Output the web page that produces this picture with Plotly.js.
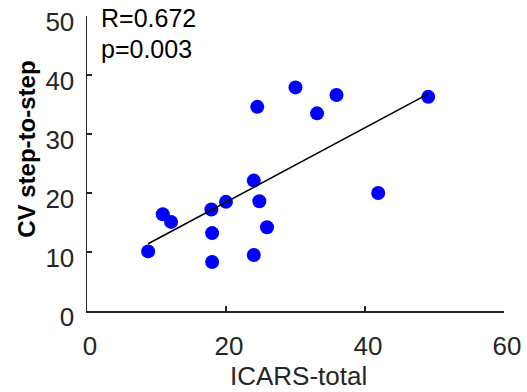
<!DOCTYPE html>
<html>
<head>
<meta charset="utf-8">
<script src="https://cdn.plot.ly/plotly-3.0.1.min.js"></script>
<style>html,body{margin:0;padding:0;background:#fff;}#chart{width:527px;height:392px;}</style>
</head>
<body>
<div id="chart"></div>
<script>
// ICARS-total vs CV step-to-step
const icarsTotal = [24.5, 30.0, 33.1, 35.9, 49.1, 24.0, 20.0, 24.8, 41.9, 10.9, 12.1, 17.9, 18.0, 25.9, 8.8, 24.0, 18.0];
const cvStep     = [34.6, 37.9, 33.5, 36.6, 36.3, 22.1, 18.5, 18.6, 20.0, 16.4, 15.1, 17.2, 13.2, 14.2, 10.1, 9.5, 8.3];
const fitX = [8.8, 49.1];
const fitY = [11.4, 36.8];
const statLines = ["R=0.672", "p=0.003"];
const xTicks = [0, 20, 40, 60];
const yTicks = [0, 10, 20, 30, 40, 50];
const xTitle = "ICARS-total";
const yTitle = "CV step-to-step";

const font = "Liberation Sans, Arial, sans-serif";
const axisColor = "#262626";

const traces = [
  {
    x: icarsTotal, y: cvStep, type: "scatter", mode: "markers",
    marker: {color: "#0000ff", size: 14},
    hoverinfo: "skip"
  },
  {
    x: fitX, y: fitY, type: "scatter", mode: "lines",
    line: {color: "#000000", width: 1.6},
    hoverinfo: "skip"
  }
];

const annotations = statLines.map((t, i) => ({
  text: t, xref: "paper", yref: "paper",
  x: 0.028, y: i === 0 ? 0.993 : 0.888,
  xanchor: "left", yanchor: "middle", showarrow: false,
  font: {size: 25, color: "#000000", family: font}
}));
annotations.push({
  text: xTitle, xref: "paper", yref: "paper",
  x: 0.508, y: -0.222, xanchor: "center", yanchor: "middle", showarrow: false,
  font: {size: 26, color: axisColor, family: font}
});
annotations.push({
  text: "<b>" + yTitle + "</b>", xref: "paper", yref: "paper",
  x: -0.147, y: 0.549, xanchor: "center", yanchor: "middle", showarrow: false,
  textangle: -90,
  font: {size: 24, color: "#000000", family: font}
});

const layout = {
  width: 527, height: 392,
  margin: {l: 86.5, r: 23, t: 16, b: 81, pad: 0},
  paper_bgcolor: "#ffffff", plot_bgcolor: "#ffffff",
  showlegend: false,
  font: {family: font, color: axisColor},
  xaxis: {
    range: [0, 60], tickvals: xTicks, ticktext: xTicks.map(String),
    showgrid: false, zeroline: false, showline: true,
    linecolor: axisColor, linewidth: 1.5,
    ticks: "inside", ticklen: 5, tickwidth: 1.5, tickcolor: axisColor,
    tickfont: {size: 26, color: axisColor, family: font},
    ticklabelstandoff: 11, ticklabelshift: 3,
    fixedrange: true
  },
  yaxis: {
    range: [0, 50], tickvals: yTicks, ticktext: yTicks.map(String),
    showgrid: false, zeroline: false, showline: true,
    linecolor: axisColor, linewidth: 1.5,
    ticks: "inside", ticklen: 5, tickwidth: 1.5, tickcolor: axisColor,
    tickfont: {size: 26, color: axisColor, family: font},
    ticklabelstandoff: 6, ticklabelshift: 6,
    fixedrange: true
  },
  annotations: annotations
};

Plotly.newPlot("chart", traces, layout, {staticPlot: true, displayModeBar: false});
</script>
</body>
</html>
